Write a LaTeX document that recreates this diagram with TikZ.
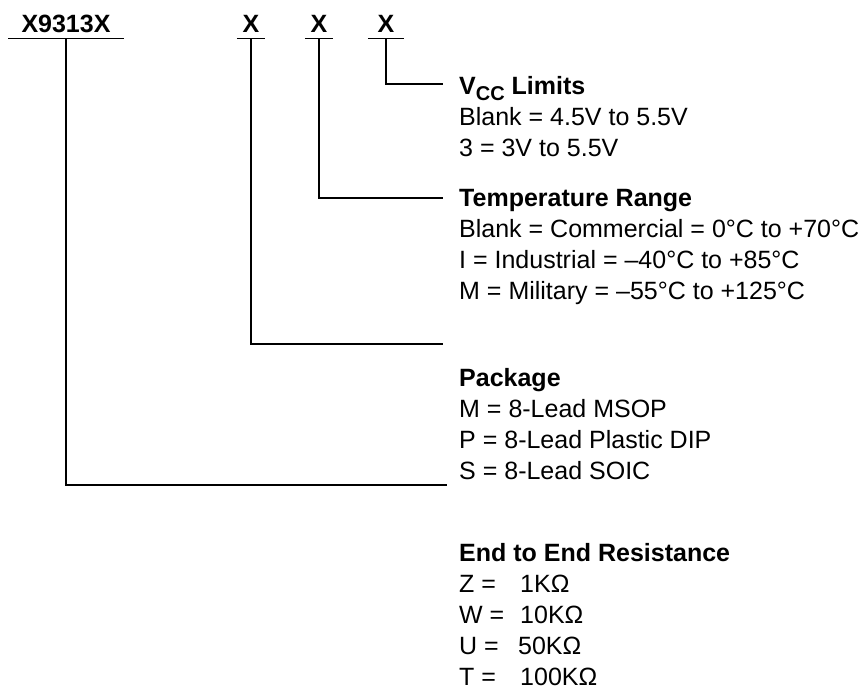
\documentclass[tikz,border=0pt]{standalone}
\usepackage{fontspec}
\setmainfont{Liberation Sans}
\begin{document}
\begin{tikzpicture}[x=1pt,y=-1pt,
    every node/.style={font=\fontsize{25}{31}\selectfont},
    field/.style={font=\fontsize{25}{31}\selectfont\bfseries, inner sep=0pt,
      anchor=base, text height=18pt, text depth=5pt},
    desc/.style={align=left, anchor=base west, inner sep=0pt},
    lead/.style={line width=1.3pt}]
  \useasboundingbox (0,0) rectangle (865,690);
  \node[field, minimum width=115pt] (code) at (66,33) {X9313X};
  \node[field, minimum width=28pt] (pkg) at (251,33) {X};
  \node[field, minimum width=28pt] (temp) at (319,33) {X};
  \node[field, minimum width=36pt] (vcc) at (386,33) {X};
  \begin{scope}[lead]
    \draw (code.south west) -- (code.south east);
    \draw (pkg.south west) -- (pkg.south east);
    \draw (temp.south west) -- (temp.south east);
    \draw (vcc.south west) -- (vcc.south east);
  \end{scope}
  \coordinate (vccend) at (443,84);
  \coordinate (tempend) at (443,198);
  \coordinate (pkgend) at (443,344);
  \coordinate (codeend) at (447,485);
  \begin{scope}[lead]
    \draw (vcc.south) |- (vccend);
    \draw (temp.south) |- (tempend);
    \draw (pkg.south) |- (pkgend);
    \draw (code.south) |- (codeend);
  \end{scope}
  \node[desc] (vcclim) at (459,157)
    {{\bfseries V\raisebox{-6pt}{\fontsize{20}{20}\selectfont CC} Limits}\\
     Blank = 4.5V to 5.5V\\
     3 = 3V to 5.5V};
  \node[desc] (temprange) at (459,299)
    {{\bfseries Temperature Range}\\
     Blank = Commercial = 0°C to +70°C\\
     I = Industrial = –40°C to +85°C\\
     M = Military = –55°C to +125°C};
  \node[desc] (package) at (459,479)
    {{\bfseries Package}\\
     M = 8-Lead MSOP\\
     P = 8-Lead Plastic DIP\\
     S = 8-Lead SOIC};
  \node[desc] (resist) at (459,685)
    {{\bfseries End to End Resistance}\\
     \makebox[61pt][l]{Z =}1KΩ\\
     \makebox[61pt][l]{W =}10KΩ\\
     \makebox[59pt][l]{U =}50KΩ\\
     \makebox[61pt][l]{T =}100KΩ};
\end{tikzpicture}
\end{document}
